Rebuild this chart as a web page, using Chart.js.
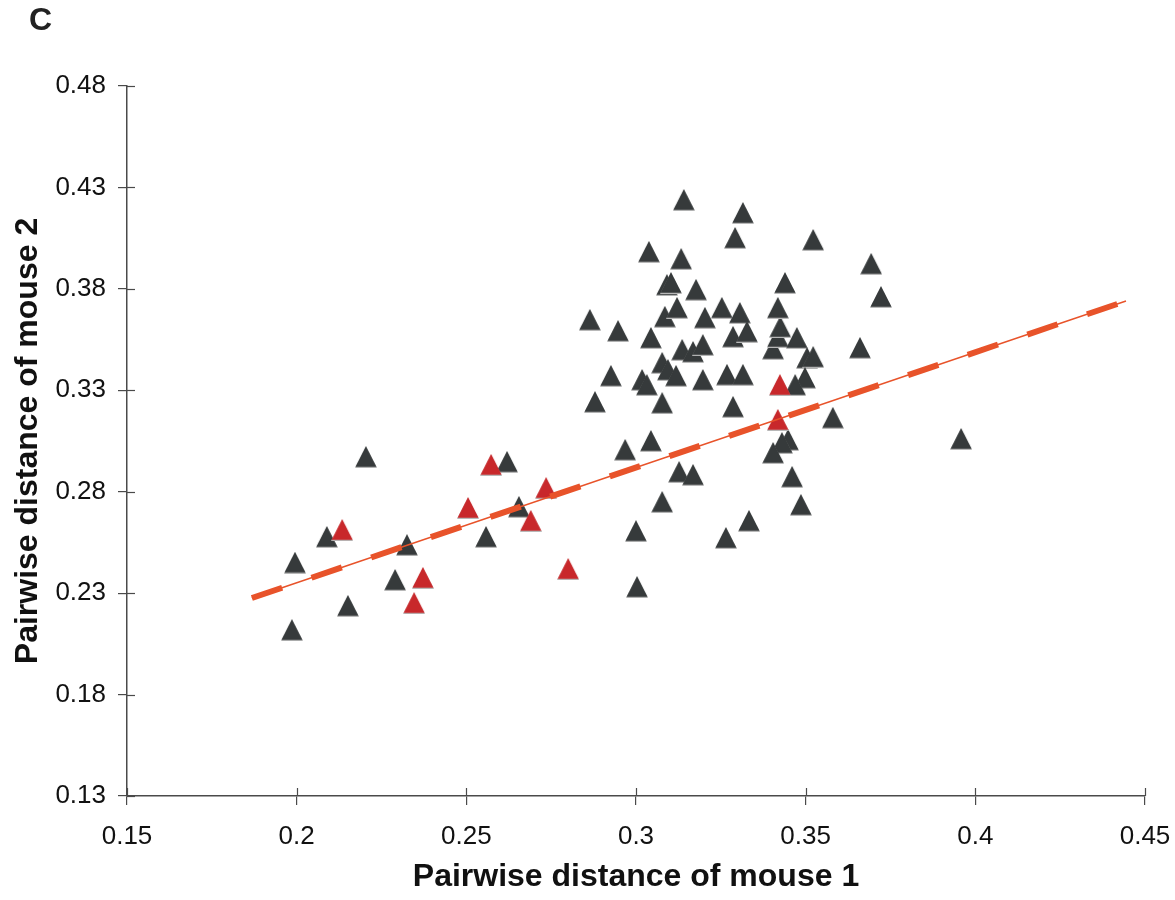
<!DOCTYPE html>
<html>
<head>
<meta charset="utf-8">
<script src="https://cdn.jsdelivr.net/npm/chart.js@4/dist/chart.umd.min.js"></script>
<style>
  html, body { margin: 0; padding: 0; background: #ffffff; }
  #wrap { width: 1175px; height: 900px; position: relative; }
</style>
</head>
<body>
<div id="wrap"><canvas id="c" width="1175" height="900"></canvas></div>
<script>
// ---- data ----
const panelLabel = 'C';
const xTitle = 'Pairwise distance of mouse 1';
const yTitle = 'Pairwise distance of mouse 2';

const xTicks = [0.15, 0.20, 0.25, 0.30, 0.35, 0.40, 0.45];
const xTickLabels = ['0.15', '0.2', '0.25', '0.3', '0.35', '0.4', '0.45'];
const yTicks = [0.13, 0.18, 0.23, 0.28, 0.33, 0.38, 0.43, 0.48];
const yTickLabels = ['0.13', '0.18', '0.23', '0.28', '0.33', '0.38', '0.43', '0.48'];

const darkX = [0.1995, 0.1986, 0.2089, 0.2151, 0.2204, 0.2290, 0.2325, 0.2558, 0.2620, 0.2655,
  0.2864, 0.2947, 0.2879, 0.2926, 0.2968, 0.3000, 0.3003, 0.3038, 0.3044, 0.3018,
  0.3032, 0.3044, 0.3077, 0.3077, 0.3094, 0.3118, 0.3077, 0.3085, 0.3091, 0.3103,
  0.3121, 0.3133, 0.3141, 0.3127, 0.3168, 0.3136, 0.3168, 0.3197, 0.3177, 0.3203,
  0.3197, 0.3253, 0.3268, 0.3265, 0.3286, 0.3286, 0.3306, 0.3315, 0.3327, 0.3292,
  0.3315, 0.3333, 0.3404, 0.3418, 0.3425, 0.3418, 0.3439, 0.3474, 0.3504, 0.3522,
  0.3498, 0.3469, 0.3448, 0.3430, 0.3404, 0.3460, 0.3486, 0.3580, 0.3522, 0.3660,
  0.3693, 0.3722, 0.3958];
const darkY = [0.2450, 0.2118, 0.2577, 0.2237, 0.2971, 0.2365, 0.2537, 0.2577, 0.2947, 0.2725,
  0.3647, 0.3592, 0.3242, 0.3371, 0.3006, 0.2606, 0.2330, 0.3982, 0.3558, 0.3351,
  0.3326, 0.3050, 0.2749, 0.3435, 0.3400, 0.3371, 0.3237, 0.3662, 0.3819, 0.3829,
  0.3706, 0.3947, 0.4238, 0.2897, 0.2883, 0.3499, 0.3489, 0.3523, 0.3795, 0.3657,
  0.3351, 0.3706, 0.3376, 0.2572, 0.3563, 0.3218, 0.3681, 0.3376, 0.3588, 0.4051,
  0.4174, 0.2656, 0.3504, 0.3563, 0.3612, 0.3706, 0.3829, 0.3558, 0.3459, 0.3464,
  0.3361, 0.3326, 0.3055, 0.3040, 0.2991, 0.2873, 0.2735, 0.3164, 0.4041, 0.3509,
  0.3923, 0.3760, 0.3060];

const redX = [0.2134, 0.2372, 0.2346, 0.2505, 0.2573, 0.2690, 0.2735, 0.2800, 0.3424, 0.3418];
const redY = [0.2611, 0.2375, 0.2251, 0.2720, 0.2932, 0.2656, 0.2818, 0.2419, 0.3326, 0.3154];

const trendX = [0.1868, 0.4444];
const trendY = [0.2276, 0.3740];

// ---- styles ----
const darkColor = '#363a3b';
const redColor = '#c8282b';
const lineColor = '#e8532a';
const axisColor = '#4a4a4a';
const fontFamily = '"Liberation Sans", Arial, sans-serif';

function triangleImage(fill) {
  const w = 22, h = 22;
  const cv = document.createElement('canvas');
  cv.width = w; cv.height = h;
  const g = cv.getContext('2d');
  g.fillStyle = '#b8b8b8';
  g.beginPath(); g.moveTo(w / 2, 1); g.lineTo(w, h); g.lineTo(0, h); g.closePath(); g.fill();
  g.fillStyle = fill;
  g.beginPath(); g.moveTo(w / 2, 0); g.lineTo(w - 0.5, h - 1.3); g.lineTo(0.5, h - 1.3); g.closePath(); g.fill();
  return cv;
}
const darkTri = triangleImage(darkColor);
const redTri = triangleImage(redColor);

const zip = (xs, ys) => xs.map((x, i) => ({ x: x, y: ys[i] }));

const innerTicks = {
  id: 'innerTicks',
  afterDraw(chart) {
    const ctx = chart.ctx;
    const xs = chart.scales.x, ys = chart.scales.y;
    ctx.save();
    ctx.strokeStyle = axisColor;
    ctx.lineWidth = 1.2;
    xs.ticks.forEach(t => {
      const px = Math.round(xs.getPixelForValue(t.value)) + 0.5;
      ctx.beginPath(); ctx.moveTo(px, xs.top); ctx.lineTo(px, xs.top - 8); ctx.stroke();
    });
    ys.ticks.forEach(t => {
      const py = Math.round(ys.getPixelForValue(t.value)) + 0.5;
      ctx.beginPath(); ctx.moveTo(ys.right, py); ctx.lineTo(ys.right + 8, py); ctx.stroke();
    });
    ctx.restore();
  }
};

const panelText = {
  id: 'panelText',
  afterDraw(chart) {
    const ctx = chart.ctx;
    ctx.save();
    ctx.fillStyle = '#222222';
    ctx.font = 'bold 32px ' + fontFamily;
    ctx.textBaseline = 'top';
    ctx.textAlign = 'left';
    ctx.fillText(panelLabel, 29, 5);
    ctx.restore();
  }
};

new Chart(document.getElementById('c'), {
  type: 'scatter',
  data: {
    datasets: [
      {
        type: 'line', label: 'trend-dash', data: zip(trendX, trendY),
        borderColor: lineColor, borderWidth: 6, borderDash: [32, 31],
        pointRadius: 0, fill: false, order: 0
      },
      {
        type: 'line', label: 'trend', data: zip(trendX, trendY),
        borderColor: lineColor, borderWidth: 1.4,
        pointRadius: 0, fill: false, order: 1
      },
      {
        label: 'red', data: zip(redX, redY),
        pointStyle: redTri, pointRadius: 11, order: 2
      },
      {
        label: 'dark', data: zip(darkX, darkY),
        pointStyle: darkTri, pointRadius: 11, order: 3
      }
    ]
  },
  options: {
    responsive: false,
    animation: false,
    events: [],
    layout: { padding: { left: 0, right: 30, top: 86, bottom: 0 } },
    plugins: { legend: { display: false }, tooltip: { enabled: false }, title: { display: false } },
    scales: {
      x: {
        type: 'linear', min: 0.15, max: 0.45,
        afterBuildTicks(scale) { scale.ticks = xTicks.map(v => ({ value: v })); },
        afterFit(scale) { scale.height = 104; scale.paddingLeft = 0; scale.paddingRight = 0; },
        ticks: {
          callback: (v, i) => xTickLabels[i],
          color: '#111111', padding: 16, maxRotation: 0,
          font: { family: fontFamily, size: 26 }
        },
        grid: { drawOnChartArea: false, drawTicks: true, tickLength: 9, color: axisColor, lineWidth: 1.2 },
        border: { display: true, color: axisColor, width: 1.5 },
        title: {
          display: true, text: xTitle, color: '#111111',
          font: { family: fontFamily, size: 32, weight: 'bold' },
          padding: { top: 0, bottom: 4 }
        }
      },
      y: {
        type: 'linear', min: 0.13, max: 0.48,
        afterBuildTicks(scale) { scale.ticks = yTicks.map(v => ({ value: v })); },
        afterFit(scale) { scale.width = 127; scale.paddingTop = 0; scale.paddingBottom = 0; },
        ticks: {
          callback: (v, i) => yTickLabels[i],
          color: '#111111', padding: 12,
          font: { family: fontFamily, size: 26 }
        },
        grid: { drawOnChartArea: false, drawTicks: true, tickLength: 9, color: axisColor, lineWidth: 1.2 },
        border: { display: true, color: axisColor, width: 1.5 },
        title: {
          display: true, text: yTitle, color: '#111111',
          font: { family: fontFamily, size: 32, weight: 'bold' },
          padding: { top: 9, bottom: 0 }
        }
      }
    }
  },
  plugins: [innerTicks, panelText]
});
</script>
</body>
</html>
